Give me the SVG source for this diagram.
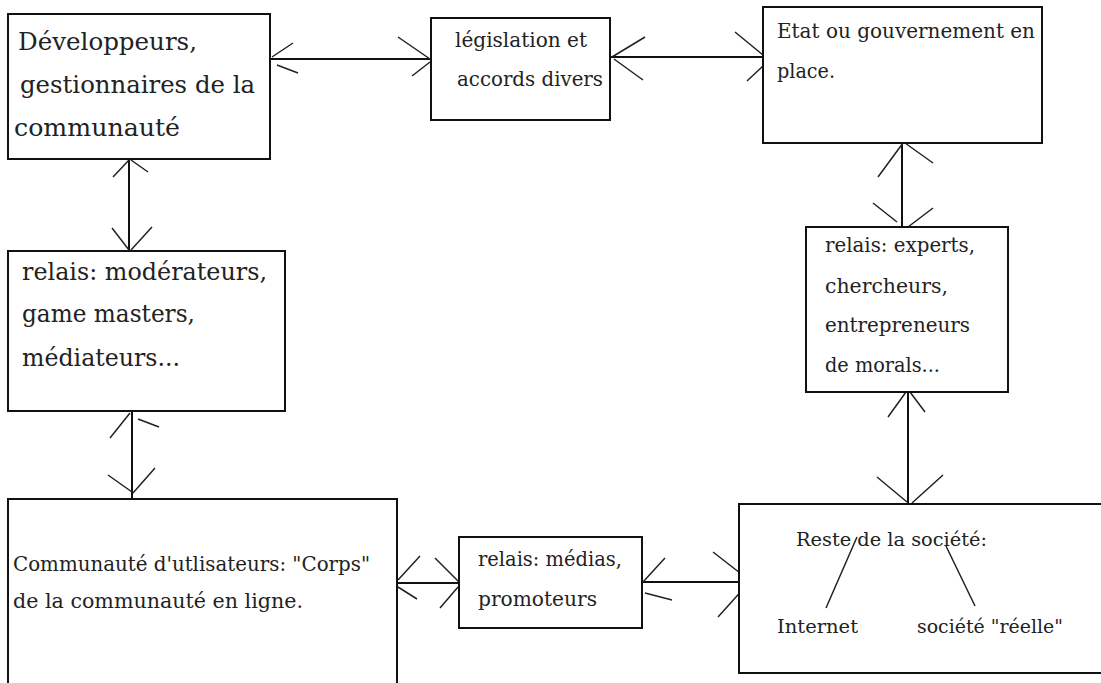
<svg xmlns="http://www.w3.org/2000/svg" width="1101" height="683" viewBox="0 0 1101 683">
<style>
.box{fill:#fff;stroke:#111;stroke-width:2}
.t{font-family:"DejaVu Serif","Liberation Serif",serif;fill:#222}
.b{font-size:24px}
.m{font-size:20px}
.s{font-size:19px}
.ln{stroke:#111;stroke-width:2;fill:none}
.ah{stroke:#222;stroke-width:1.5;fill:none}
</style>
<rect width="1101" height="683" fill="#fff"/>
<g id="connectors">
<path class="ln" d="M270 59H431M610 57H763M902 143V227M908 392V515M129 159V251M132 411V503M397 583H459M642 582H739"/>
<path class="ah" d="M272 57L293 43M277 65L298 73M398 37L430 59M412 76L430 62"/>
<path class="ah" d="M612 57L645 37M614 59L643 80M735 32L763 55M747 81L763 66"/>
<path class="ah" d="M903 143L878 177M905 143L933 163M873 203L897 222M933 208L908 227"/>
<path class="ah" d="M906 392L888 417M910 392L925 412M877 477L907 502M943 475L912 503"/>
<path class="ah" d="M129 160L113 177M131 160L148 172M112 228L129 250M152 227L131 250"/>
<path class="ah" d="M130 413L110 438M138 419L159 427M108 475L132 492M155 468L133 493"/>
<path class="ah" d="M398 580L420 556M398 587L417 599M435 558L460 583M440 608L458 587"/>
<path class="ah" d="M643 582L665 558M645 593L672 600M713 552L740 573M718 617L745 587"/>
</g>
<g id="developpeurs">
<rect class="box" x="8" y="14" width="262" height="145"/>
<text class="t b" x="18" y="50" textLength="179" lengthAdjust="spacingAndGlyphs">Développeurs,</text>
<text class="t b" x="20" y="93" textLength="235" lengthAdjust="spacingAndGlyphs">gestionnaires de la</text>
<text class="t b" x="14" y="136" textLength="166" lengthAdjust="spacingAndGlyphs">communauté</text>
</g>
<g id="legislation">
<rect class="box" x="431" y="18" width="179" height="102"/>
<text class="t m" x="455" y="47" textLength="132" lengthAdjust="spacingAndGlyphs">législation et</text>
<text class="t m" x="457" y="86" textLength="146" lengthAdjust="spacingAndGlyphs">accords divers</text>
</g>
<g id="etat">
<rect class="box" x="763" y="7" width="279" height="136"/>
<text class="t m" x="777" y="38" textLength="258" lengthAdjust="spacingAndGlyphs">Etat ou gouvernement en</text>
<text class="t m" x="777" y="78" textLength="58" lengthAdjust="spacingAndGlyphs">place.</text>
</g>
<g id="experts">
<rect class="box" x="806" y="227" width="202" height="165"/>
<text class="t m" x="825" y="252" textLength="150" lengthAdjust="spacingAndGlyphs">relais: experts,</text>
<text class="t m" x="825" y="293" textLength="123" lengthAdjust="spacingAndGlyphs">chercheurs,</text>
<text class="t m" x="825" y="332" textLength="145" lengthAdjust="spacingAndGlyphs">entrepreneurs</text>
<text class="t m" x="825" y="372" textLength="115" lengthAdjust="spacingAndGlyphs">de morals...</text>
</g>
<g id="moderateurs">
<rect class="box" x="8" y="251" width="277" height="160"/>
<text class="t b" x="22" y="280" textLength="245" lengthAdjust="spacingAndGlyphs">relais: modérateurs,</text>
<text class="t b" x="22" y="322" textLength="173" lengthAdjust="spacingAndGlyphs">game masters,</text>
<text class="t b" x="22" y="366" textLength="158" lengthAdjust="spacingAndGlyphs">médiateurs...</text>
</g>
<g id="communaute">
<rect class="box" x="8" y="499" width="389" height="200"/>
<text class="t m" x="13" y="571" textLength="357" lengthAdjust="spacingAndGlyphs">Communauté d'utlisateurs: "Corps"</text>
<text class="t m" x="13" y="608" textLength="290" lengthAdjust="spacingAndGlyphs">de la communauté en ligne.</text>
</g>
<g id="medias">
<rect class="box" x="459" y="537" width="183" height="91"/>
<text class="t m" x="478" y="566" textLength="144" lengthAdjust="spacingAndGlyphs">relais: médias,</text>
<text class="t m" x="478" y="606" textLength="119" lengthAdjust="spacingAndGlyphs">promoteurs</text>
</g>
<g id="reste">
<rect class="box" x="739" y="504" width="380" height="169"/>
<text class="t s" x="796" y="546" textLength="191" lengthAdjust="spacingAndGlyphs">Reste de la société:</text>
<path class="ah" d="M857 537L826 608M946 546L975 606"/>
<text class="t s" x="777" y="633" textLength="81" lengthAdjust="spacingAndGlyphs">Internet</text>
<text class="t s" x="917" y="633" textLength="146" lengthAdjust="spacingAndGlyphs">société "réelle"</text>
</g>
</svg>
